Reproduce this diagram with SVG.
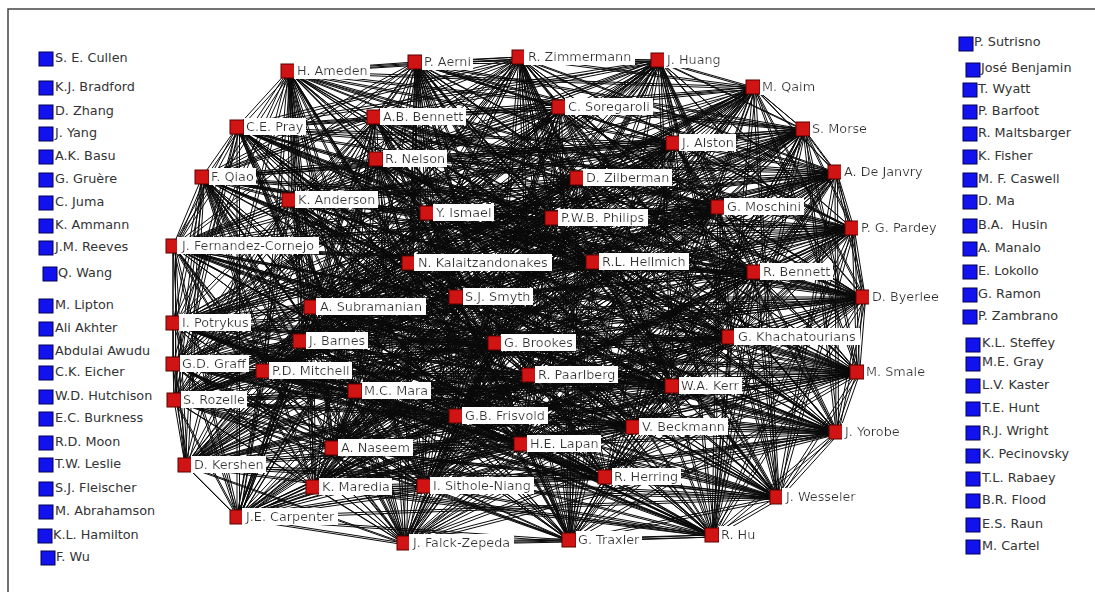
<svg xmlns="http://www.w3.org/2000/svg" xmlns:xlink="http://www.w3.org/1999/xlink" width="1095" height="592" viewBox="0 0 1095 592">
<style>
.e{fill:none;stroke:#0a0a0a;stroke-width:1;stroke-linejoin:round}
.r{fill:#d01414;stroke:#5a0000;stroke-width:1}
.b{fill:#1212ee;stroke:#000050;stroke-width:1}
text{font-family:"DejaVu Sans",Verdana,sans-serif;font-size:12.8px;fill:#333}
.l{filter:url(#bg)}
</style>
<defs>
<filter id="bg" x="-0.03" y="-0.04" width="1.06" height="1.08"><feFlood flood-color="#fff" result="f"/><feComposite in="SourceGraphic" in2="f" operator="over"/></filter>
</defs>
<rect width="1095" height="592" fill="#fff"/>
<path d="M8,592V9H1095" fill="none" stroke="#444" stroke-width="1.5"/>
<g id="connectors">
<g id="edges">
<path class="e" d="M288,71 415,62 519,57 658,60 753,87 803,129 835,172 852,228 863,297 857,372 836,432 777,497 712,535 569,540 404,543 237,517 185,465 174,400 173,364 173,323 173,246 202,177 237,127 374,117 559,107 376,159 673,143 577,178 289,200 427,213 552,218 718,207 409,263 593,262 754,272 311,307 456,297 300,341 729,337 495,343 263,371 355,391 529,375 672,386 456,416 633,427 332,448 521,444 605,477 313,487 424,486Z"/>
<path class="e" d="M288,71 519,57 753,87 835,172 863,297 836,432 712,535 404,543 185,465 173,364 173,246 237,127 559,107 673,143 289,200 552,218 409,263 754,272 456,297 729,337 263,371 529,375 456,416 332,448 605,477 424,486 415,62 658,60 803,129 852,228 857,372 777,497 569,540 237,517 174,400 173,323 202,177 374,117 376,159 577,178 427,213 718,207 593,262 311,307 300,341 495,343 355,391 672,386 633,427 521,444 313,487Z"/>
<path class="e" d="M288,71 753,87 863,297 712,535 185,465 173,246 559,107 289,200 409,263 456,297 263,371 456,416 605,477 415,62 803,129 857,372 569,540 174,400 202,177 376,159 427,213 593,262 300,341 355,391 633,427 313,487 519,57 835,172 836,432 404,543 173,364 237,127 673,143 552,218 754,272 729,337 529,375 332,448 424,486 658,60 852,228 777,497 237,517 173,323 374,117 577,178 718,207 311,307 495,343 672,386 521,444Z"/>
<path class="e" d="M288,71 803,129 836,432 237,517 173,246 376,159 552,218 311,307 263,371 633,427 424,486 753,87 857,372 404,543 173,323 559,107 427,213 754,272 495,343 456,416 313,487 658,60 863,297 569,540 173,364 374,117 289,200 593,262 729,337 672,386 605,477 519,57 852,228 712,535 174,400 237,127 577,178 409,263 300,341 529,375 521,444 415,62 835,172 777,497 185,465 202,177 673,143 718,207 456,297 355,391 332,448Z"/>
<path class="e" d="M288,71 852,228 404,543 202,177 289,200 311,307 529,375 313,487 803,129 712,535 173,323 673,143 593,262 263,371 521,444 658,60 836,432 174,400 559,107 718,207 729,337 633,427 415,62 863,297 237,517 237,127 427,213 456,297 672,386 424,486 835,172 569,540 173,246 577,178 754,272 355,391 605,477 753,87 777,497 173,364 376,159 409,263 495,343 332,448 519,57 857,372 185,465 374,117 552,218 300,341 456,416Z"/>
<path class="e" d="M288,71 863,297 185,465 559,107 409,263 263,371 605,477 803,129 569,540 202,177 427,213 300,341 633,427 519,57 836,432 173,364 673,143 754,272 529,375 424,486 852,228 237,517 374,117 718,207 495,343 521,444 753,87 712,535 173,246 289,200 456,297 456,416 415,62 857,372 174,400 376,159 593,262 355,391 313,487 835,172 404,543 237,127 552,218 729,337 332,448 658,60 777,497 173,323 577,178 311,307 672,386Z"/>
<path class="e" d="M288,71 836,432 173,246 552,218 263,371 424,486 857,372 173,323 427,213 495,343 313,487 863,297 173,364 289,200 729,337 605,477 852,228 174,400 577,178 300,341 521,444 835,172 185,465 673,143 456,297 332,448 803,129 237,517 376,159 311,307 633,427 753,87 404,543 559,107 754,272 456,416 658,60 569,540 374,117 593,262 672,386 519,57 712,535 237,127 409,263 529,375 415,62 777,497 202,177 718,207 355,391Z"/>
<path class="e" d="M288,71 777,497 237,127 593,262 456,416 753,87 237,517 673,143 300,341 605,477 863,297 173,323 552,218 355,391 415,62 712,535 374,117 754,272 633,427 803,129 185,465 577,178 729,337 313,487 857,372 173,246 718,207 529,375 519,57 569,540 559,107 311,307 332,448 835,172 174,400 289,200 495,343 424,486 836,432 202,177 409,263 672,386 658,60 404,543 376,159 456,297 521,444 852,228 173,364 427,213 263,371Z"/>
<path class="e" d="M288,71 569,540 673,143 495,343 415,62 404,543 577,178 263,371 519,57 237,517 289,200 355,391 658,60 185,465 427,213 529,375 753,87 174,400 552,218 672,386 803,129 173,364 718,207 456,416 835,172 173,323 409,263 633,427 852,228 173,246 593,262 332,448 863,297 202,177 754,272 521,444 857,372 237,127 311,307 605,477 836,432 374,117 456,297 313,487 777,497 559,107 300,341 424,486 712,535 376,159 729,337Z"/>
<path class="e" d="M288,71 404,543 289,200 529,375 803,129 173,323 593,262 521,444 836,432 559,107 729,337 415,62 237,517 427,213 672,386 835,172 173,246 754,272 605,477 777,497 376,159 495,343 519,57 185,465 552,218 456,416 852,228 202,177 311,307 313,487 712,535 673,143 263,371 658,60 174,400 718,207 633,427 863,297 237,127 456,297 424,486 569,540 577,178 355,391 753,87 173,364 409,263 332,448 857,372 374,117 300,341Z"/>
<path class="e" d="M288,71 185,465 409,263 605,477 569,540 427,213 633,427 836,432 673,143 529,375 852,228 374,117 495,343 753,87 173,246 456,297 415,62 174,400 593,262 313,487 404,543 552,218 332,448 777,497 577,178 672,386 863,297 559,107 263,371 803,129 202,177 300,341 519,57 173,364 754,272 424,486 237,517 718,207 521,444 712,535 289,200 456,416 857,372 376,159 355,391 835,172 237,127 729,337 658,60 173,323 311,307Z"/>
<path class="e" d="M288,71 173,323 729,337 835,172 376,159 456,416 712,535 718,207 424,486 173,364 300,341 803,129 559,107 672,386 777,497 552,218 313,487 174,400 456,297 753,87 374,117 529,375 836,432 427,213 605,477 185,465 311,307 658,60 237,127 355,391 857,372 289,200 521,444 237,517 754,272 519,57 202,177 263,371 863,297 577,178 332,448 404,543 593,262 415,62 173,246 495,343 852,228 673,143 633,427 569,540 409,263Z"/>
<path class="e" d="M288,71 173,246 263,371 857,372 427,213 313,487 173,364 729,337 852,228 577,178 521,444 185,465 456,297 803,129 376,159 633,427 404,543 754,272 658,60 374,117 672,386 712,535 409,263 415,62 202,177 355,391 836,432 552,218 424,486 173,323 495,343 863,297 289,200 605,477 174,400 300,341 835,172 673,143 332,448 237,517 311,307 753,87 559,107 456,416 569,540 593,262 519,57 237,127 529,375 777,497 718,207Z"/>
<path class="e" d="M288,71 237,127 456,416 237,517 300,341 863,297 552,218 415,62 374,117 633,427 185,465 729,337 857,372 718,207 519,57 559,107 332,448 174,400 495,343 836,432 409,263 658,60 376,159 521,444 173,364 263,371 777,497 593,262 753,87 673,143 605,477 173,323 355,391 712,535 754,272 803,129 577,178 313,487 173,246 529,375 569,540 311,307 835,172 289,200 424,486 202,177 672,386 404,543 456,297 852,228 427,213Z"/>
<path class="e" d="M288,71 374,117 332,448 173,364 355,391 569,540 456,297 863,297 718,207 658,60 673,143 313,487 202,177 456,416 185,465 495,343 777,497 754,272 835,172 427,213 415,62 559,107 521,444 173,323 529,375 404,543 300,341 857,372 409,263 753,87 577,178 424,486 237,127 633,427 174,400 263,371 712,535 311,307 852,228 552,218 519,57 376,159 605,477 173,246 672,386 237,517 729,337 836,432 593,262 803,129 289,200Z"/>
<path class="e" d="M288,71 376,159 424,486 559,107 313,487 374,117 605,477 237,127 521,444 202,177 332,448 173,246 633,427 173,323 456,416 173,364 672,386 174,400 529,375 185,465 355,391 237,517 263,371 404,543 495,343 569,540 729,337 712,535 300,341 777,497 456,297 836,432 311,307 857,372 754,272 863,297 593,262 852,228 409,263 835,172 718,207 803,129 552,218 753,87 427,213 658,60 289,200 519,57 577,178 415,62 673,143Z"/>
</g>
<use href="#edges" xlink:href="#edges" transform="translate(2.5,2)"/>
</g>
<g id="n-ameden"><rect class="r" x="281" y="64" width="14" height="14"/><text class="l" x="297" y="75">H. Ameden</text></g>
<g id="n-aerni"><rect class="r" x="408" y="55" width="14" height="14"/><text class="l" x="424" y="66">P. Aerni</text></g>
<g id="n-zimmermann"><rect class="r" x="512" y="50" width="14" height="14"/><text class="l" x="528" y="61">R. Zimmermann</text></g>
<g id="n-huang"><rect class="r" x="651" y="53" width="14" height="14"/><text class="l" x="667" y="64">J. Huang</text></g>
<g id="n-qaim"><rect class="r" x="746" y="80" width="14" height="14"/><text class="l" x="762" y="91">M. Qaim</text></g>
<g id="n-morse"><rect class="r" x="796" y="122" width="14" height="14"/><text class="l" x="812" y="133">S. Morse</text></g>
<g id="n-dejanvry"><rect class="r" x="828" y="165" width="14" height="14"/><text class="l" x="844" y="176">A. De Janvry</text></g>
<g id="n-pardey"><rect class="r" x="845" y="221" width="14" height="14"/><text class="l" x="861" y="232">P. G. Pardey</text></g>
<g id="n-byerlee"><rect class="r" x="856" y="290" width="14" height="14"/><text class="l" x="872" y="301">D. Byerlee</text></g>
<g id="n-smale"><rect class="r" x="850" y="365" width="14" height="14"/><text class="l" x="866" y="376">M. Smale</text></g>
<g id="n-yorobe"><rect class="r" x="829" y="425" width="14" height="14"/><text class="l" x="845" y="436">J. Yorobe</text></g>
<g id="n-wesseler"><rect class="r" x="770" y="490" width="14" height="14"/><text class="l" x="786" y="501">J. Wesseler</text></g>
<g id="n-hu"><rect class="r" x="705" y="528" width="14" height="14"/><text class="l" x="721" y="539">R. Hu</text></g>
<g id="n-traxler"><rect class="r" x="562" y="533" width="14" height="14"/><text class="l" x="578" y="544">G. Traxler</text></g>
<g id="n-falckzepeda"><rect class="r" x="397" y="536" width="14" height="14"/><text class="l" x="413" y="547">J. Falck-Zepeda</text></g>
<g id="n-carpenter"><rect class="r" x="230" y="510" width="14" height="14"/><text class="l" x="246" y="521">J.E. Carpenter</text></g>
<g id="n-kershen"><rect class="r" x="178" y="458" width="14" height="14"/><text class="l" x="194" y="469">D. Kershen</text></g>
<g id="n-rozelle"><rect class="r" x="167" y="393" width="14" height="14"/><text class="l" x="183" y="404">S. Rozelle</text></g>
<g id="n-graff"><rect class="r" x="166" y="357" width="14" height="14"/><text class="l" x="182" y="368">G.D. Graff</text></g>
<g id="n-potrykus"><rect class="r" x="166" y="316" width="14" height="14"/><text class="l" x="182" y="327">I. Potrykus</text></g>
<g id="n-fernandezcornejo"><rect class="r" x="166" y="239" width="14" height="14"/><text class="l" x="182" y="250">J. Fernandez-Cornejo</text></g>
<g id="n-qiao"><rect class="r" x="195" y="170" width="14" height="14"/><text class="l" x="211" y="181">F. Qiao</text></g>
<g id="n-pray"><rect class="r" x="230" y="120" width="14" height="14"/><text class="l" x="246" y="131">C.E. Pray</text></g>
<g id="n-abbennett"><rect class="r" x="367" y="110" width="14" height="14"/><text class="l" x="383" y="121">A.B. Bennett</text></g>
<g id="n-soregaroli"><rect class="r" x="552" y="100" width="14" height="14"/><text class="l" x="568" y="111">C. Soregaroli</text></g>
<g id="n-nelson"><rect class="r" x="369" y="152" width="14" height="14"/><text class="l" x="385" y="163">R. Nelson</text></g>
<g id="n-alston"><rect class="r" x="666" y="136" width="14" height="14"/><text class="l" x="682" y="147">J. Alston</text></g>
<g id="n-zilberman"><rect class="r" x="570" y="171" width="14" height="14"/><text class="l" x="586" y="182">D. Zilberman</text></g>
<g id="n-anderson"><rect class="r" x="282" y="193" width="14" height="14"/><text class="l" x="298" y="204">K. Anderson</text></g>
<g id="n-ismael"><rect class="r" x="420" y="206" width="14" height="14"/><text class="l" x="436" y="217">Y. Ismael</text></g>
<g id="n-philips"><rect class="r" x="545" y="211" width="14" height="14"/><text class="l" x="561" y="222">P.W.B. Philips</text></g>
<g id="n-moschini"><rect class="r" x="711" y="200" width="14" height="14"/><text class="l" x="727" y="211">G. Moschini</text></g>
<g id="n-kalaitzandonakes"><rect class="r" x="402" y="256" width="14" height="14"/><text class="l" x="418" y="267">N. Kalaitzandonakes</text></g>
<g id="n-hellmich"><rect class="r" x="586" y="255" width="14" height="14"/><text class="l" x="602" y="266">R.L. Hellmich</text></g>
<g id="n-rbennett"><rect class="r" x="747" y="265" width="14" height="14"/><text class="l" x="763" y="276">R. Bennett</text></g>
<g id="n-subramanian"><rect class="r" x="304" y="300" width="14" height="14"/><text class="l" x="320" y="311">A. Subramanian</text></g>
<g id="n-smyth"><rect class="r" x="449" y="290" width="14" height="14"/><text class="l" x="465" y="301">S.J. Smyth</text></g>
<g id="n-barnes"><rect class="r" x="293" y="334" width="14" height="14"/><text class="l" x="309" y="345">J. Barnes</text></g>
<g id="n-khachatourians"><rect class="r" x="722" y="330" width="14" height="14"/><text class="l" x="738" y="341">G. Khachatourians</text></g>
<g id="n-brookes"><rect class="r" x="488" y="336" width="14" height="14"/><text class="l" x="504" y="347">G. Brookes</text></g>
<g id="n-mitchell"><rect class="r" x="256" y="364" width="14" height="14"/><text class="l" x="272" y="375">P.D. Mitchell</text></g>
<g id="n-mara"><rect class="r" x="348" y="384" width="14" height="14"/><text class="l" x="364" y="395">M.C. Mara</text></g>
<g id="n-paarlberg"><rect class="r" x="522" y="368" width="14" height="14"/><text class="l" x="538" y="379">R. Paarlberg</text></g>
<g id="n-kerr"><rect class="r" x="665" y="379" width="14" height="14"/><text class="l" x="681" y="390">W.A. Kerr</text></g>
<g id="n-frisvold"><rect class="r" x="449" y="409" width="14" height="14"/><text class="l" x="465" y="420">G.B. Frisvold</text></g>
<g id="n-beckmann"><rect class="r" x="626" y="420" width="14" height="14"/><text class="l" x="642" y="431">V. Beckmann</text></g>
<g id="n-naseem"><rect class="r" x="325" y="441" width="14" height="14"/><text class="l" x="341" y="452">A. Naseem</text></g>
<g id="n-lapan"><rect class="r" x="514" y="437" width="14" height="14"/><text class="l" x="530" y="448">H.E. Lapan</text></g>
<g id="n-herring"><rect class="r" x="598" y="470" width="14" height="14"/><text class="l" x="614" y="481">R. Herring</text></g>
<g id="n-maredia"><rect class="r" x="306" y="480" width="14" height="14"/><text class="l" x="322" y="491">K. Maredia</text></g>
<g id="n-sitholeniang"><rect class="r" x="417" y="479" width="14" height="14"/><text class="l" x="433" y="490">I. Sithole-Niang</text></g>
<g id="n-cullen"><rect class="b" x="39" y="52" width="14" height="14"/><text x="55" y="62">S. E. Cullen</text></g>
<g id="n-bradford"><rect class="b" x="39" y="81" width="14" height="14"/><text x="55" y="91">K.J. Bradford</text></g>
<g id="n-zhang"><rect class="b" x="39" y="105" width="14" height="14"/><text x="55" y="115">D. Zhang</text></g>
<g id="n-yang"><rect class="b" x="39" y="127" width="14" height="14"/><text x="55" y="137">J. Yang</text></g>
<g id="n-basu"><rect class="b" x="39" y="150" width="14" height="14"/><text x="55" y="160">A.K. Basu</text></g>
<g id="n-gruere"><rect class="b" x="39" y="173" width="14" height="14"/><text x="55" y="183">G. Gruère</text></g>
<g id="n-juma"><rect class="b" x="39" y="196" width="14" height="14"/><text x="55" y="206">C. Juma</text></g>
<g id="n-ammann"><rect class="b" x="39" y="219" width="14" height="14"/><text x="55" y="229">K. Ammann</text></g>
<g id="n-reeves"><rect class="b" x="39" y="241" width="14" height="14"/><text x="55" y="251">J.M. Reeves</text></g>
<g id="n-wang"><rect class="b" x="43" y="267" width="14" height="14"/><text x="58" y="277">Q. Wang</text></g>
<g id="n-lipton"><rect class="b" x="39" y="299" width="14" height="14"/><text x="55" y="309">M. Lipton</text></g>
<g id="n-akhter"><rect class="b" x="39" y="322" width="14" height="14"/><text x="55" y="332">Ali Akhter</text></g>
<g id="n-awudu"><rect class="b" x="39" y="345" width="14" height="14"/><text x="55" y="355">Abdulai Awudu</text></g>
<g id="n-eicher"><rect class="b" x="39" y="366" width="14" height="14"/><text x="55" y="376">C.K. Eicher</text></g>
<g id="n-hutchison"><rect class="b" x="39" y="390" width="14" height="14"/><text x="55" y="400">W.D. Hutchison</text></g>
<g id="n-burkness"><rect class="b" x="39" y="412" width="14" height="14"/><text x="55" y="422">E.C. Burkness</text></g>
<g id="n-moon"><rect class="b" x="39" y="436" width="14" height="14"/><text x="55" y="446">R.D. Moon</text></g>
<g id="n-leslie"><rect class="b" x="39" y="458" width="14" height="14"/><text x="55" y="468">T.W. Leslie</text></g>
<g id="n-fleischer"><rect class="b" x="39" y="482" width="14" height="14"/><text x="55" y="492">S.J. Fleischer</text></g>
<g id="n-abrahamson"><rect class="b" x="39" y="505" width="14" height="14"/><text x="55" y="515">M. Abrahamson</text></g>
<g id="n-hamilton"><rect class="b" x="38" y="529" width="14" height="14"/><text x="53" y="539">K.L. Hamilton</text></g>
<g id="n-wu"><rect class="b" x="41" y="551" width="14" height="14"/><text x="56" y="561">F. Wu</text></g>
<g id="n-sutrisno"><rect class="b" x="959" y="37" width="14" height="14"/><text x="974" y="46">P. Sutrisno</text></g>
<g id="n-benjamin"><rect class="b" x="966" y="63" width="14" height="14"/><text x="981" y="72">José Benjamin</text></g>
<g id="n-wyatt"><rect class="b" x="963" y="83" width="14" height="14"/><text x="978" y="93">T. Wyatt</text></g>
<g id="n-barfoot"><rect class="b" x="963" y="105" width="14" height="14"/><text x="978" y="115">P. Barfoot</text></g>
<g id="n-maltsbarger"><rect class="b" x="963" y="127" width="14" height="14"/><text x="978" y="137">R. Maltsbarger</text></g>
<g id="n-fisher"><rect class="b" x="963" y="150" width="14" height="14"/><text x="978" y="160">K. Fisher</text></g>
<g id="n-caswell"><rect class="b" x="963" y="173" width="14" height="14"/><text x="978" y="183">M. F. Caswell</text></g>
<g id="n-ma"><rect class="b" x="963" y="195" width="14" height="14"/><text x="978" y="205">D. Ma</text></g>
<g id="n-husin"><rect class="b" x="963" y="219" width="14" height="14"/><text x="978" y="229" style="white-space:pre">B.A.  Husin</text></g>
<g id="n-manalo"><rect class="b" x="963" y="242" width="14" height="14"/><text x="978" y="252">A. Manalo</text></g>
<g id="n-lokollo"><rect class="b" x="963" y="265" width="14" height="14"/><text x="978" y="275">E. Lokollo</text></g>
<g id="n-ramon"><rect class="b" x="963" y="288" width="14" height="14"/><text x="978" y="298">G. Ramon</text></g>
<g id="n-zambrano"><rect class="b" x="963" y="310" width="14" height="14"/><text x="978" y="320">P. Zambrano</text></g>
<g id="n-steffey"><rect class="b" x="966" y="338" width="14" height="14"/><text x="982" y="347">K.L. Steffey</text></g>
<g id="n-gray"><rect class="b" x="966" y="357" width="14" height="14"/><text x="982" y="366">M.E. Gray</text></g>
<g id="n-kaster"><rect class="b" x="966" y="379" width="14" height="14"/><text x="982" y="389">L.V. Kaster</text></g>
<g id="n-hunt"><rect class="b" x="966" y="402" width="14" height="14"/><text x="982" y="412">T.E. Hunt</text></g>
<g id="n-wright"><rect class="b" x="966" y="426" width="14" height="14"/><text x="982" y="435">R.J. Wright</text></g>
<g id="n-pecinovsky"><rect class="b" x="966" y="449" width="14" height="14"/><text x="982" y="458">K. Pecinovsky</text></g>
<g id="n-rabaey"><rect class="b" x="966" y="472" width="14" height="14"/><text x="982" y="482">T.L. Rabaey</text></g>
<g id="n-flood"><rect class="b" x="966" y="494" width="14" height="14"/><text x="982" y="504">B.R. Flood</text></g>
<g id="n-raun"><rect class="b" x="966" y="518" width="14" height="14"/><text x="982" y="528">E.S. Raun</text></g>
<g id="n-cartel"><rect class="b" x="966" y="540" width="14" height="14"/><text x="982" y="550">M. Cartel</text></g>
</svg>
